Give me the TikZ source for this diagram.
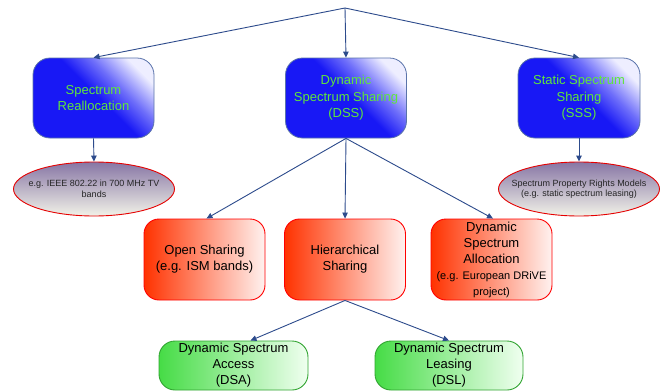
\documentclass[tikz,border=0pt]{standalone}
\usepackage{fontspec}
\setmainfont{Liberation Sans}
\usetikzlibrary{arrows.meta,shapes.geometric}
\definecolor{arrowc}{RGB}{45,75,140}
\definecolor{bluedeep}{RGB}{24,24,245}
\definecolor{bluemid}{RGB}{110,110,250}
\definecolor{bluelight}{RGB}{238,238,255}
\definecolor{blueborder}{RGB}{90,115,170}
\definecolor{greentext}{RGB}{95,230,60}
\definecolor{redstrong}{RGB}{255,50,0}
\definecolor{redmid}{RGB}{255,140,110}
\definecolor{redlight}{RGB}{255,242,240}
\definecolor{ellipsetop}{RGB}{135,118,165}
\definecolor{ellipsemid}{RGB}{195,188,205}
\definecolor{ellipsebot}{RGB}{242,242,232}
\definecolor{greenstrong}{RGB}{70,220,70}
\definecolor{greenlight}{RGB}{240,255,240}
\definecolor{greenborder}{RGB}{50,165,50}
\pgfdeclareverticalshading{blueshade}{100bp}{color(0bp)=(bluedeep); color(52bp)=(bluedeep); color(63bp)=(bluemid); color(76bp)=(bluelight); color(100bp)=(bluelight)}
\tikzset{
  conn/.style={draw=arrowc, line width=0.9pt, -{Triangle[length=6pt,width=5.5pt]}},
  bluebox/.style={rectangle, rounded corners=17pt, draw=blueborder, line width=0.8pt,
    shading=blueshade, shading angle=-45,
    minimum width=121pt, minimum height=80pt, inner sep=0pt, align=center,
    text=greentext, font=\fontsize{13}{16.5}\selectfont},
  redbox/.style={rectangle, rounded corners=15pt, draw=red, line width=0.9pt,
    left color=redstrong, middle color=redmid, right color=redlight,
    minimum width=121pt, minimum height=81pt, inner sep=0pt, align=center,
    text=black, font=\fontsize{13}{16}\selectfont},
  greenbox/.style={rectangle, rounded corners=16pt, draw=greenborder, line width=0.9pt,
    left color=greenstrong, right color=greenlight,
    minimum width=149pt, minimum height=49pt, inner sep=0pt, align=center,
    text=black, font=\fontsize{13}{16}\selectfont},
  ovalbox/.style={ellipse, draw=red!90!black, line width=0.9pt,
    top color=ellipsetop, middle color=ellipsemid, bottom color=ellipsebot,
    minimum width=161pt, minimum height=54pt, inner sep=0pt},
  ovaltext/.style={align=center, inner sep=0pt, text=black!85, font=\fontsize{9}{10.5}\selectfont}
}
\begin{document}
\begin{tikzpicture}[x=1pt,y=-1pt]
\useasboundingbox (0,0) rectangle (665,391);
\fill[white] (0,0) rectangle (665,391);

\coordinate (top) at (345,8);

\node[bluebox] (sr) at (93.5,98) {Spectrum\\Reallocation};
\node[bluebox] (dss) at (346,98) {Dynamic\\Spectrum Sharing\\(DSS)};
\node[bluebox, minimum width=122pt] (sss) at (579,98) {Static Spectrum\\Sharing\\(SSS)};

\node[ovalbox] (e1) at (94,189) {};
\node[ovaltext] (e1t) at (e1.center) {e.g. IEEE 802.22 in 700 MHz TV\\bands};
\node[ovalbox] (e2) at (579,189) {};
\node[ovaltext] (e2t) at (e2.center) {Spectrum Property Rights Models\\(e.g. static spectrum leasing)};

\node[redbox] (os) at (204.5,259.5) {Open Sharing\\(e.g. ISM bands)};
\node[redbox] (hs) at (345,259.5) {Hierarchical\\Sharing};
\node[redbox] (dsal) at (491.5,259.5) {Dynamic\\Spectrum\\Allocation\\{\fontsize{11}{15.5}\selectfont (e.g. European DRiVE}\\{\fontsize{11}{15.5}\selectfont project)}};

\node[greenbox] (dsa) at (233.5,365.5) {Dynamic Spectrum\\Access\\(DSA)};
\node[greenbox, minimum width=148pt] (dsl) at (449,365.5) {Dynamic Spectrum\\Leasing\\(DSL)};

\draw[conn] (top) -- (sr.north);
\draw[conn] (top) -- (dss.north);
\draw[conn] (top) -- (sss.north);
\draw[conn] (sr.south) -- (e1.north);
\draw[conn] (sss.south) -- (e2.north);
\draw[conn] (dss.south) -- ([xshift=2pt]os.north);
\draw[conn] (dss.south) -- (hs.north);
\draw[conn] (dss.south) -- ([xshift=1.5pt]dsal.north);
\draw[conn] (hs.south) -- ([xshift=17pt]dsa.north);
\draw[conn] (hs.south) -- (dsl.north);
\end{tikzpicture}
\end{document}
